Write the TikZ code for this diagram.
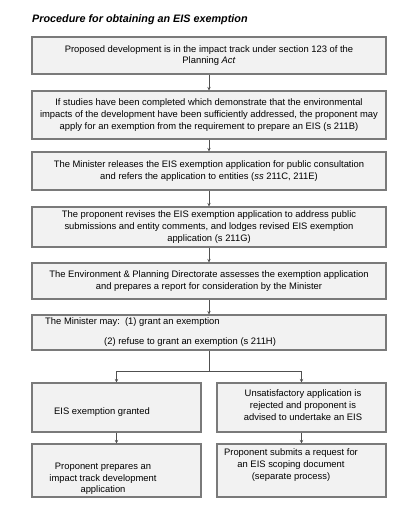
\documentclass[tikz,border=0pt]{standalone}
\usepackage{fontspec}
\setmainfont{Liberation Sans}
\usetikzlibrary{arrows.meta}
\definecolor{boxfill}{HTML}{F2F2F2}
\definecolor{boxdraw}{HTML}{7A7A7A}
\definecolor{arrcol}{HTML}{505050}
\begin{document}
\begin{tikzpicture}[x=1pt,y=-1pt,
  stepbox/.style={draw=boxdraw,fill=boxfill,line width=1.1pt,inner sep=0pt,minimum width=354pt,align=center,
     font=\fontsize{9.4}{11.7}\selectfont},
  halfbox/.style={draw=boxdraw,fill=boxfill,line width=1.1pt,inner sep=0pt,minimum width=169pt},
  txt/.style={inner sep=0pt,align=center,font=\fontsize{9.4}{11.7}\selectfont},
  arr/.style={draw=arrcol,line width=0.8pt,-{Stealth[length=3.5pt,width=3.5pt]}},
  ln/.style={draw=arrcol,line width=0.8pt}]
\useasboundingbox (0,0) rectangle (410,530);
\node[anchor=west,inner sep=0pt,font=\fontsize{10.8}{12}\selectfont\bfseries\itshape] (title) at (32,20) {Procedure for obtaining an EIS exemption};
\node[stepbox,minimum height=37pt] (b1) at (209,55.5) {Proposed development is in the impact track under section 123 of the\\Planning \textit{Act}};
\node[stepbox,minimum height=48pt] (b2) at (209,115) {If studies have been completed which demonstrate that the environmental\\impacts of the development have been sufficiently addressed, the proponent may\\apply for an exemption from the requirement to prepare an EIS (s 211B)};
\node[stepbox,minimum height=38pt] (b3) at (209,171) {The Minister releases the EIS exemption application for public consultation\\and refers the application to entities (\textit{ss} 211C, 211E)};
\node[stepbox,minimum height=40pt] (b4) at (209,227) {The proponent revises the EIS exemption application to address public\\submissions and entity comments, and lodges revised EIS exemption\\application (s 211G)};
\node[stepbox,minimum height=36pt] (b5) at (209,281) {The Environment \& Planning Directorate assesses the exemption application\\and prepares a report for consideration by the Minister};
\node[stepbox,minimum height=35pt] (b6) at (209,332.5) {};
\node[txt,anchor=west] (m1) at (45,322) {The Minister may:\ \ (1) grant an exemption};
\node[txt,anchor=west] (m2) at (104,342) {(2) refuse to grant an exemption (s 211H)};
\node[halfbox,minimum height=49pt] (bl1) at (116.5,407.5) {};
\node[halfbox,minimum height=49pt] (br1) at (301.5,407.5) {};
\node[halfbox,minimum height=53pt] (bl2) at (116.5,470.5) {};
\node[halfbox,minimum height=53pt] (br2) at (301.5,470.5) {};
\node[txt] (tl1) at (102,412) {EIS exemption granted};
\node[txt] (tr1) at (303,405) {Unsatisfactory application is\\rejected and proponent is\\advised to undertake an EIS};
\node[txt] (tl2) at (103,479) {Proponent prepares an\\impact track development\\application};
\node[txt] (tr2) at (291,465) {Proponent submits a request for\\an EIS scoping document\\(separate process)};
\coordinate (j) at (209,371);
\draw[arr] (b1) -- (b2);
\draw[arr] (b2) -- (b3);
\draw[arr] (b3) -- (b4);
\draw[arr] (b4) -- (b5);
\draw[arr] (b5) -- (b6);
\draw[ln] (b6) -- (j);
\draw[arr] (j) -| (bl1);
\draw[arr] (j) -| (br1);
\draw[arr] (bl1) -- (bl2);
\draw[arr] (br1) -- (br2);
\end{tikzpicture}
\end{document}
